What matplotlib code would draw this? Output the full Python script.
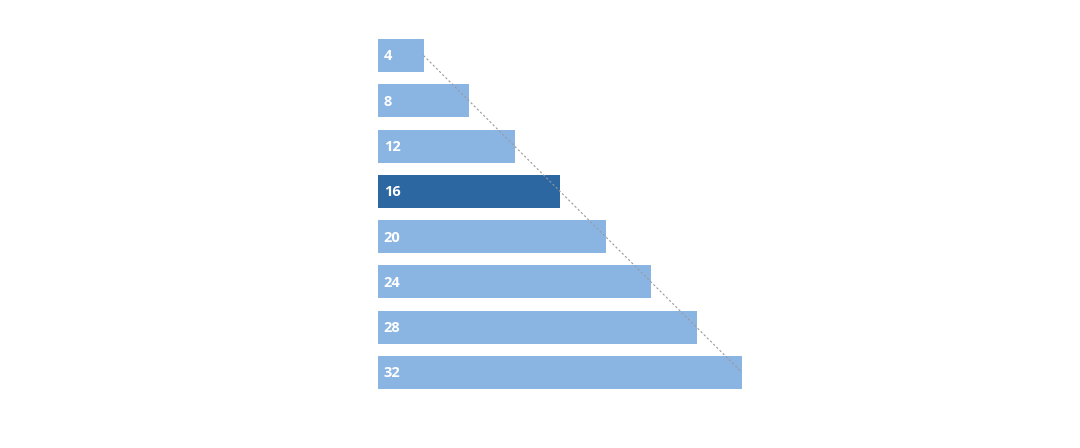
import matplotlib
matplotlib.use('Agg')
import matplotlib.pyplot as plt
import numpy as np

values = [4, 8, 12, 16, 20, 24, 28, 32]
labels = ['4', '8', '12', '16', '20', '24', '28', '32']
highlight = '16'

light = '#8ab5e3'
dark = '#2c67a1'

plt.rcParams['font.family'] = ['Open Sans', 'DejaVu Sans']

fig = plt.figure(figsize=(10.8, 4.48), dpi=100)
# axes placed so bar edges match the reference layout
ax = fig.add_axes([378 / 1080, (448 - 389) / 448, 364 / 1080, 350 / 448])

y = np.arange(len(values))
bar_h = 33 / 45.29
colors = [dark if l == highlight else light for l in labels]
ax.barh(y, values, height=bar_h, color=colors, zorder=1)

for yi, v, l in zip(y, values, labels):
    ax.text(0.5, yi + 0.02, l, color='white', fontsize=10.5, fontweight='bold',
            va='center', ha='left', zorder=3)

# dashed guide through bar ends
ax.plot([values[0], values[-1]], [y[0], y[-1]], color='#9a9a9a',
        lw=0.8, ls=(0, (2, 2)), zorder=2)

ax.set_xlim(0, 32)
ax.set_ylim(len(values) - 1 + bar_h / 2, -bar_h / 2)
ax.axis('off')

fig.savefig('out.png', dpi=100)
